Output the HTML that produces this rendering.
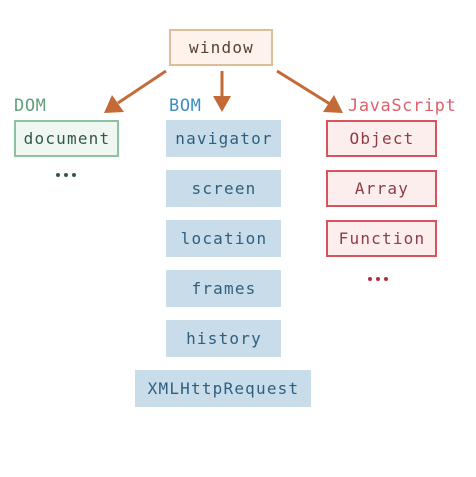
<!DOCTYPE html>
<html><head><style>
body{margin:0;width:476px;height:477px;background:#fff;position:relative;overflow:hidden;font-family:"DejaVu Sans Mono","Liberation Mono",monospace;font-size:16px;letter-spacing:1.2px}
.b{position:absolute;box-sizing:border-box;display:flex;align-items:center;justify-content:center;height:37px;padding-left:1px}
.bom{background:#c9dcea;color:#2f5f7e}
.js{background:#fdeeee;border:2px solid #d9535f;color:#8f3c44}
.l{position:absolute;font-size:17px;letter-spacing:0.6px}
.d{position:absolute;width:4px;height:4px;border-radius:50%}
</style></head><body>
<div class="b" style="left:169px;top:29px;width:104px;background:#fdf3ec;border:2px solid #e2bb9b;color:#5a4030">window</div>
<svg style="position:absolute;left:0;top:0" width="476" height="477">
<g stroke="#c46a36" stroke-width="3" fill="#c46a36">
<line x1="166" y1="71" x2="118" y2="103"/><polygon points="104,113 112,95 124,112" stroke="none"/>
<line x1="222" y1="71" x2="222" y2="98"/><polygon points="213,96 231,96 222,112" stroke="none"/>
<line x1="277" y1="71" x2="330" y2="104"/><polygon points="343,113 323,112 334,95" stroke="none"/>
</g></svg>
<div class="l" style="left:14px;top:96px;color:#5f9f7a">DOM</div>
<div class="l" style="left:169px;top:96px;color:#3b8fc0">BOM</div>
<div class="l" style="left:348px;top:96px;color:#e0606c">JavaScript</div>
<div class="b" style="left:14px;top:120px;width:105px;background:#f0f7f2;border:2px solid #8cc29f;color:#2f5a44">document</div>
<div class="d" style="left:56px;top:173px;background:#2f5a44"></div><div class="d" style="left:64px;top:173px;background:#2f5a44"></div><div class="d" style="left:72px;top:173px;background:#2f5a44"></div>
<div class="b bom" style="left:166px;top:120px;width:115px">navigator</div>
<div class="b bom" style="left:166px;top:170px;width:115px">screen</div>
<div class="b bom" style="left:166px;top:220px;width:115px">location</div>
<div class="b bom" style="left:166px;top:270px;width:115px">frames</div>
<div class="b bom" style="left:166px;top:320px;width:115px">history</div>
<div class="b bom" style="left:135px;top:370px;width:176px">XMLHttpRequest</div>
<div class="b js" style="left:326px;top:120px;width:111px">Object</div>
<div class="b js" style="left:326px;top:170px;width:111px">Array</div>
<div class="b js" style="left:326px;top:220px;width:111px">Function</div>
<div class="d" style="left:368px;top:277px;background:#b0323d"></div><div class="d" style="left:376px;top:277px;background:#b0323d"></div><div class="d" style="left:384px;top:277px;background:#b0323d"></div>
</body></html>
